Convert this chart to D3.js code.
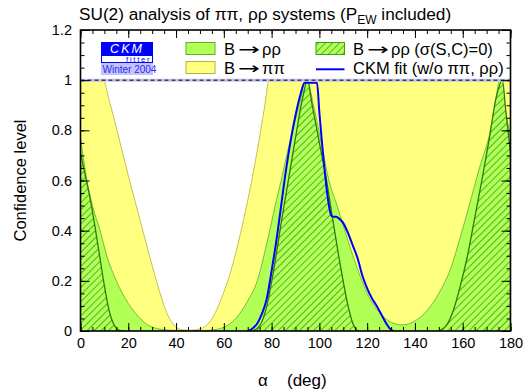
<!DOCTYPE html>
<html>
<head>
<meta charset="utf-8">
<script src="https://cdn.jsdelivr.net/npm/d3@7"></script>
<style>
  body { margin: 0; background: #fff; }
  svg { display: block; }
  text { font-family: "Liberation Sans", Arial, Helvetica, sans-serif; fill: #000; }
</style>
</head>
<body>
<svg id="chart" width="529" height="392"></svg>
<script>
// B -> pi pi confidence level (yellow)
const pipiCL = [
  [0, 1], [9.5, 1], [12, 0.92], [15, 0.81], [20, 0.62], [25, 0.44], [30, 0.26], [33, 0.16],
  [36, 0.075], [39, 0.025], [42, 0.006], [46, 0.003], [50, 0.008], [53, 0.025], [56, 0.065],
  [59, 0.13], [62, 0.21], [66, 0.35], [70, 0.52], [74, 0.72], [77, 0.89], [79, 1], [180, 1]
];
// B -> rho rho confidence level (light green)
const rhorhoCL = [
  [0, 0.77], [2.7, 0.6], [5, 0.5], [8.2, 0.4], [11, 0.3], [15, 0.2], [20, 0.11], [25, 0.05],
  [28, 0.025], [32, 0.01], [38, 0.003], [45, 0.001], [52, 0.002], [56, 0.005], [60, 0.015],
  [65, 0.05], [70, 0.12], [74, 0.2], [78, 0.35], [81.5, 0.5], [84, 0.6], [88, 0.77], [91, 0.88],
  [94.5, 1], [98, 0.88], [101, 0.74], [104, 0.6], [107.4, 0.5], [110, 0.42], [114, 0.3],
  [117, 0.22], [120, 0.15], [125, 0.075], [130, 0.035], [135, 0.024], [140, 0.04], [145, 0.08],
  [150, 0.15], [155, 0.25], [159, 0.375], [163, 0.51], [167, 0.65], [171.6, 0.8], [173.5, 0.9],
  [175.5, 1], [177.5, 0.9], [180, 0.77]
];
// B -> rho rho with sigma(S,C)=0 (hatched), three separate lobes
const rhorhoSigma0Left = [
  [0, 0.71], [2, 0.62], [4, 0.53], [6, 0.42], [8, 0.3], [10, 0.18], [12, 0.08], [14, 0.025],
  [16, 0.004], [18, 0]
];
const rhorhoSigma0Mid = [
  [72, 0], [75, 0.02], [78, 0.1], [81, 0.25], [84, 0.43], [87, 0.6], [90, 0.77], [93, 0.93],
  [95, 1], [97, 0.9], [100, 0.75], [103, 0.6], [106, 0.42], [109, 0.25], [112, 0.1],
  [114, 0.03], [116, 0]
];
const rhorhoSigma0Right = [
  [150, 0], [153, 0.02], [156, 0.08], [159, 0.18], [162, 0.3], [165, 0.45], [168, 0.6],
  [171, 0.76], [174, 0.93], [176.6, 1], [178, 0.88], [180, 0.71]
];
// CKM fit without pi pi, rho rho (blue line)
const ckmFitCL = [
  [70, 0], [72, 0.01], [74, 0.03], [76, 0.07], [78, 0.13], [80, 0.24], [82, 0.36], [84, 0.5],
  [86, 0.64], [88, 0.76], [90, 0.86], [92, 0.94], [93.8, 0.99], [99, 0.99], [100, 0.87],
  [101, 0.76], [102, 0.66], [103, 0.57], [104, 0.5], [105, 0.46], [106, 0.455], [107, 0.455],
  [108, 0.45], [110, 0.43], [112, 0.39], [114, 0.34], [116, 0.29], [118, 0.22], [120, 0.17],
  [122, 0.13], [124, 0.1], [126, 0.065], [128, 0.03], [130, 0.005], [131, 0]
];
const xTicks = [0, 20, 40, 60, 80, 100, 120, 140, 160, 180];
const yTicks = [0, 0.2, 0.4, 0.6, 0.8, 1, 1.2];

const svg = d3.select("#chart");
const pLeft = 80.5, pRight = 510.5, pTop = 30, pBottom = 331;

const x = d3.scaleLinear().domain([0, 180]).range([pLeft, pRight]);
const y = d3.scaleLinear().domain([0, 1.2]).range([pBottom, pTop]);

// hatch pattern
const defs = svg.append("defs");
const pat = defs.append("pattern")
    .attr("id", "hatch")
    .attr("patternUnits", "userSpaceOnUse")
    .attr("width", 5).attr("height", 5)
    .attr("patternTransform", "rotate(45)");
pat.append("rect").attr("width", 5).attr("height", 5).attr("fill", "#b2ff55");
pat.append("line").attr("x1", 0.5).attr("y1", 0).attr("x2", 0.5).attr("y2", 5)
    .attr("stroke", "#4aa82a").attr("stroke-width", 0.9);

defs.append("clipPath").attr("id", "plotClip")
  .append("rect").attr("x", pLeft).attr("y", y(1)).attr("width", pRight - pLeft).attr("height", pBottom - y(1));

const area = d3.area()
    .x(d => x(d[0]))
    .y0(y(0))
    .y1(d => y(d[1]))
    .curve(d3.curveMonotoneX);
const line = d3.line()
    .x(d => x(d[0]))
    .y(d => y(d[1]))
    .curve(d3.curveMonotoneX);

const plot = svg.append("g").attr("clip-path", "url(#plotClip)");

plot.append("path").datum(pipiCL)
    .attr("d", area)
    .attr("fill", "#ffff80")
    .attr("stroke", "#b8b040").attr("stroke-width", 0.8);

plot.append("path").datum(rhorhoCL)
    .attr("d", area)
    .attr("fill", "#b2ff55")
    .attr("stroke", "#5cb028").attr("stroke-width", 0.8);

[rhorhoSigma0Left, rhorhoSigma0Mid, rhorhoSigma0Right].forEach(lobe => {
  plot.append("path").datum(lobe)
      .attr("d", area)
      .attr("fill", "url(#hatch)")
      .attr("stroke", "none");
  plot.append("path").datum(lobe)
      .attr("d", line)
      .attr("fill", "none")
      .attr("stroke", "#2a7d08").attr("stroke-width", 1.3);
});

plot.append("path").datum(ckmFitCL)
    .attr("d", line)
    .attr("fill", "none")
    .attr("stroke", "#0000ff").attr("stroke-width", 2);

// dashed line at CL = 1
svg.append("line")
    .attr("x1", pLeft).attr("x2", pRight).attr("y1", y(1)).attr("y2", y(1))
    .attr("stroke", "#c4c4f4").attr("stroke-width", 3);
svg.append("line")
    .attr("x1", pLeft).attr("x2", pRight).attr("y1", y(1)).attr("y2", y(1))
    .attr("stroke", "#000").attr("stroke-width", 1).attr("stroke-dasharray", "4,3");

// axes: ticks inward on all four sides
const xMinor = d3.range(0, 181, 5);
const yMinor = d3.range(0, 1.2001, 0.05);

function styleAxis(g) {
  g.select(".domain").remove();
  g.selectAll(".tick line").attr("stroke", "#000").attr("stroke-width", 1);
}

svg.append("g").attr("transform", `translate(0,${pBottom})`)
    .call(d3.axisBottom(x).tickValues(xMinor).tickSize(-4).tickFormat(""))
    .call(styleAxis);
svg.append("g").attr("transform", `translate(0,${pBottom})`)
    .call(d3.axisBottom(x).tickValues(xTicks).tickSize(-8).tickPadding(7).tickFormat(d3.format("d")))
    .call(styleAxis)
    .call(g => g.selectAll("text").attr("font-size", 14.5).attr("font-family", null));
svg.append("g").attr("transform", `translate(0,${pTop})`)
    .call(d3.axisTop(x).tickValues(xMinor).tickSize(-4).tickFormat(""))
    .call(styleAxis);
svg.append("g").attr("transform", `translate(0,${pTop})`)
    .call(d3.axisTop(x).tickValues(xTicks).tickSize(-8).tickFormat(""))
    .call(styleAxis);

svg.append("g").attr("transform", `translate(${pLeft},0)`)
    .call(d3.axisLeft(y).tickValues(yMinor).tickSize(-4).tickFormat(""))
    .call(styleAxis);
svg.append("g").attr("transform", `translate(${pLeft},0)`)
    .call(d3.axisLeft(y).tickValues(yTicks).tickSize(-9).tickPadding(8.5).tickFormat(d3.format("~g")))
    .call(styleAxis)
    .call(g => g.selectAll("text").attr("font-size", 14.5).attr("font-family", null));
svg.append("g").attr("transform", `translate(${pRight},0)`)
    .call(d3.axisRight(y).tickValues(yMinor).tickSize(-4).tickFormat(""))
    .call(styleAxis);
svg.append("g").attr("transform", `translate(${pRight},0)`)
    .call(d3.axisRight(y).tickValues(yTicks).tickSize(-9).tickFormat(""))
    .call(styleAxis);

svg.append("rect")
    .attr("x", pLeft).attr("y", pTop).attr("width", pRight - pLeft).attr("height", pBottom - pTop)
    .attr("fill", "none").attr("stroke", "#000").attr("stroke-width", 1.6);

// titles
const title = svg.append("text").attr("x", 79).attr("y", 20).attr("font-size", 17.2);
title.append("tspan").text("SU(2) analysis of ππ, ρρ systems (P");
title.append("tspan").attr("font-size", 12).attr("dy", 4).text("EW");
title.append("tspan").attr("dy", -4).text(" included)");

svg.append("text")
    .attr("transform", `translate(26,${(pTop + pBottom) / 2}) rotate(-90)`)
    .attr("text-anchor", "middle")
    .attr("font-size", 16.5)
    .text("Confidence level");

svg.append("text").attr("x", 258).attr("y", 386).attr("font-size", 17).text("α");
svg.append("text").attr("x", 287).attr("y", 386).attr("font-size", 17).text("(deg)");

// legend
const lg = svg.append("g");
// CKMfitter logo
lg.append("rect").attr("x", 101).attr("y", 42).attr("width", 52).attr("height", 13).attr("fill", "#0000ff");
lg.append("text").attr("x", 127).attr("y", 53).attr("text-anchor", "middle")
    .attr("font-size", 12.5).attr("font-style", "italic").attr("letter-spacing", 2)
    .style("fill", "#fff").text("CKM");
lg.append("rect").attr("x", 101.5).attr("y", 55.5).attr("width", 51).attr("height", 7)
    .attr("fill", "#fff").attr("stroke", "#0000ff").attr("stroke-width", 1);
lg.append("text").attr("x", 126).attr("y", 61.5)
    .attr("font-size", 7.5).attr("letter-spacing", 1.8)
    .style("fill", "#0000ff").text("fitter");
lg.append("rect").attr("x", 101).attr("y", 63).attr("width", 52).attr("height", 12).attr("fill", "#c4c4fa");
lg.append("text").attr("x", 102.5).attr("y", 73).attr("font-size", 10)
    .style("fill", "#2b2bff").text("Winter 2004");

// legend label with a wide arrow, like the original symbol font
function legendLabel(xPos, yPos, rest) {
  const t = lg.append("text").attr("x", xPos).attr("y", yPos).attr("font-size", 16.5);
  t.append("tspan").text("B");
  t.append("tspan").attr("dx", 3).attr("font-family", "DejaVu Sans")
      .attr("textLength", 22).attr("lengthAdjust", "spacingAndGlyphs").text("→");
  t.append("tspan").attr("dx", 2).text(rest);
}

lg.append("rect").attr("x", 186).attr("y", 42.5).attr("width", 29).attr("height", 12)
    .attr("fill", "#b2ff55").attr("stroke", "#5cb028");
legendLabel(224, 54.5, "ρρ");

lg.append("rect").attr("x", 186).attr("y", 61.5).attr("width", 29).attr("height", 12)
    .attr("fill", "#ffff80").attr("stroke", "#b8b040");
legendLabel(224, 73.5, "ππ");

lg.append("rect").attr("x", 316).attr("y", 42.5).attr("width", 28.5).attr("height", 12)
    .attr("fill", "url(#hatch)").attr("stroke", "#3c9c1c");
legendLabel(353, 54.5, "ρρ (σ(S,C)=0)");

lg.append("line").attr("x1", 316).attr("x2", 344.5).attr("y1", 69.3).attr("y2", 69.3)
    .attr("stroke", "#0000ff").attr("stroke-width", 2);
lg.append("text").attr("x", 353).attr("y", 73.5).attr("font-size", 16.5).text("CKM fit (w/o ππ, ρρ)");
</script>
</body>
</html>
